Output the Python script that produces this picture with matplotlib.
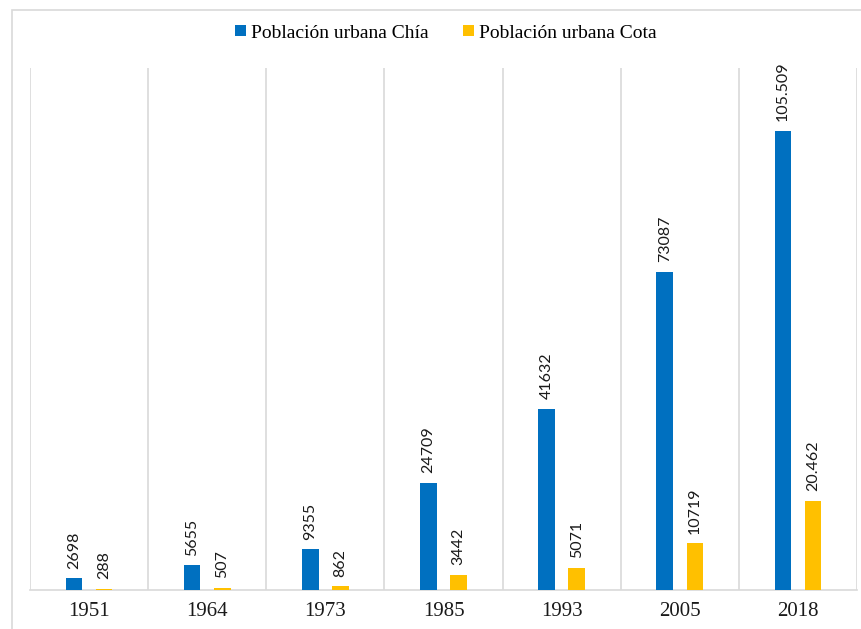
import matplotlib
matplotlib.use("Agg")
import matplotlib.pyplot as plt
from matplotlib.patches import Rectangle
import numpy as np

years = ["1951", "1964", "1973", "1985", "1993", "2005", "2018"]
chia = [2698, 5655, 9355, 24709, 41632, 73087, 105509]
cota = [288, 507, 862, 3442, 5071, 10719, 20462]
chia_labels = ["2698", "5655", "9355", "24709", "41632", "73087", "105.509"]
cota_labels = ["288", "507", "862", "3442", "5071", "10719", "20.462"]
series_names = ["Población urbana Chía", "Población urbana Cota"]

BLUE = "#0070C0"
YELLOW = "#FFC000"
GRID = "#D9D9D9"

fig = plt.figure(figsize=(8.62, 6.29), dpi=100)
fig.patches.append(Rectangle((12/862, -0.1), 1.0, 1.1 - 10/629,
                             transform=fig.transFigure, fill=False,
                             edgecolor=GRID, linewidth=1.2))
ax = fig.add_axes([30/862, 39/629, 827/862, 522/629])

x = np.arange(len(years))
off = 0.128
w = 0.14
b1 = ax.bar(x - off, chia, width=w, color=BLUE, label=series_names[0], zorder=3)
b2 = ax.bar(x + off, cota, width=w, color=YELLOW, label=series_names[1], zorder=3)

for bars, labels in ((b1, chia_labels), (b2, cota_labels)):
    for rect, lab in zip(bars, labels):
        ax.annotate(lab, (rect.get_x() + rect.get_width()/2, rect.get_height()),
                    xytext=(0, 7), textcoords="offset points", rotation=90,
                    ha="center", va="bottom", fontsize=11.5, family="Lato",
                    color="#1a1a1a")

ax.set_xlim(-0.5, len(years) - 0.5)
ax.set_ylim(0, 120000)
for b in np.arange(len(years) + 1) - 0.5:
    ax.axvline(b, color=GRID, linewidth=1.2, zorder=1)

for s in ["top", "right", "left"]:
    ax.spines[s].set_visible(False)
ax.spines["bottom"].set_color(GRID)
ax.spines["bottom"].set_linewidth(1.2)
ax.set_yticks([])
ax.set_xticks(x)
ax.set_xticklabels(years, fontsize=15, family="Liberation Serif", color="#1a1a1a")
ax.tick_params(axis="x", length=0, pad=9)

fig.legend(handles=[b1, b2], labels=series_names, loc="center",
           bbox_to_anchor=(446/862, 1 - 33/629), ncol=2, frameon=False,
           prop={"family": "Liberation Serif", "size": 14},
           handlelength=0.55, handleheight=0.55, handletextpad=0.25,
           columnspacing=1.8)

fig.savefig("out.png", dpi=100)
